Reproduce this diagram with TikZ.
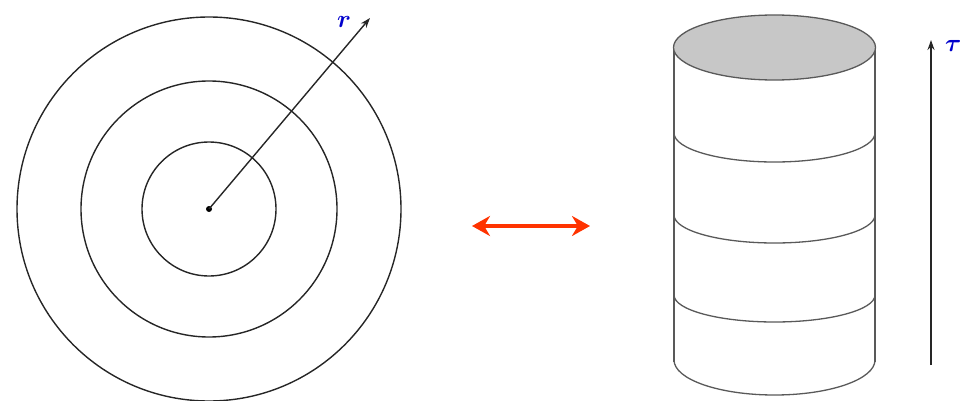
\documentclass[tikz,border=0pt]{standalone}
\usetikzlibrary{arrows.meta}
\begin{document}
\begin{tikzpicture}[x=1pt,y=-1pt,
  ring/.style={draw=black!85, line width=1.4pt},
  cyl/.style={draw=black!65, line width=1.3pt},
  axis/.style={draw=black!85, line width=1.4pt, -{Stealth[length=10pt,width=7pt]}},
  lbl/.style={text=blue!80!black, font=\fontsize{30}{34}\selectfont\boldmath, inner sep=0pt}]
\useasboundingbox (0,0) rectangle (963,401);
% concentric circles
\coordinate (c) at (209,209);
\draw[ring] (c) circle (192);
\draw[ring] (c) circle (128);
\draw[ring] (c) circle (67);
\fill (c) circle (3);
\coordinate (rtip) at (370,18);
\draw[axis] (c) -- (rtip);
\node[lbl] (rl) at (344,22) {$r$};
% double arrow
\coordinate (da) at (472,226);
\coordinate (db) at (590,226);
\draw[draw={rgb,255:red,255;green,51;blue,0}, line width=3.5pt, {Stealth[length=18pt,width=20pt]}-{Stealth[length=18pt,width=20pt]}] (da) -- (db);
% cylinder
\draw[cyl] (674,47) -- (674,362);
\draw[cyl] (875,47) -- (875,362);
\draw[cyl] (674,133) arc[start angle=180, end angle=0, x radius=100.5, y radius=29];
\draw[cyl] (674,215) arc[start angle=180, end angle=0, x radius=100.5, y radius=28];
\draw[cyl] (674,295) arc[start angle=180, end angle=0, x radius=100.5, y radius=27];
\draw[cyl] (674,360) arc[start angle=180, end angle=0, x radius=100.5, y radius=35];
\draw[cyl, fill=black!22] (774.5,47.5) ellipse[x radius=101, y radius=32.5];
% tau axis
\coordinate (t0) at (931,365);
\coordinate (t1) at (931,40);
\draw[axis] (t0) -- (t1);
\node[lbl, anchor=west] (tl) at (945,46) {$\tau$};
\end{tikzpicture}
\end{document}
